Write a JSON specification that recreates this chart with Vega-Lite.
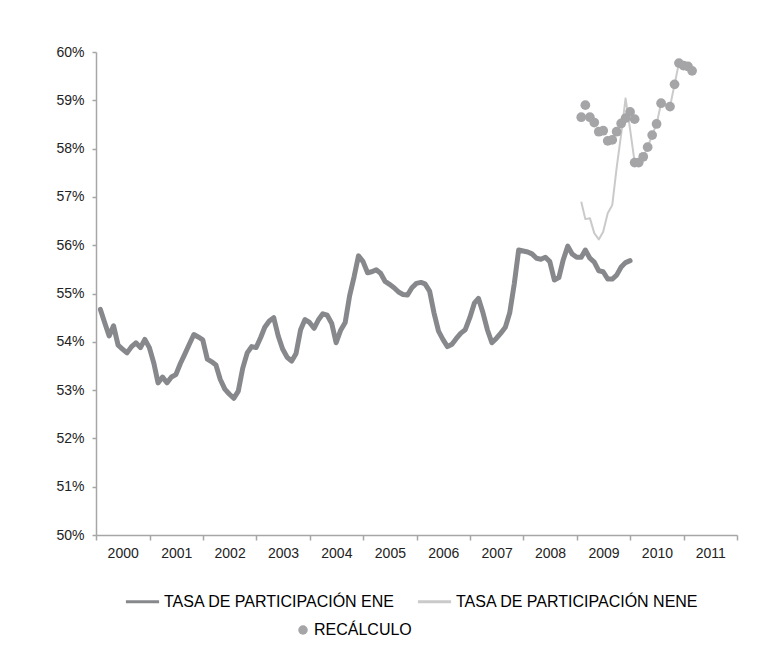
{
  "$schema": "https://vega.github.io/schema/vega-lite/v6.json",
  "width": 641,
  "height": 483,
  "autosize": "none",
  "padding": {"left": 96, "top": 52, "right": 36, "bottom": 110},
  "background": "white",
  "config": {
    "view": {"stroke": null},
    "font": "Liberation Sans"
  },
  "datasets": {
    "ene": [
      {"fecha": "2000-01-31", "tasa": 54.67}, {"fecha": "2000-02-29", "tasa": 54.40}, {"fecha": "2000-03-31", "tasa": 54.12}, {"fecha": "2000-04-30", "tasa": 54.33}, {"fecha": "2000-05-31", "tasa": 53.93}, {"fecha": "2000-06-30", "tasa": 53.85}, {"fecha": "2000-07-31", "tasa": 53.77}, {"fecha": "2000-08-31", "tasa": 53.90}, {"fecha": "2000-09-30", "tasa": 53.98}, {"fecha": "2000-10-31", "tasa": 53.88}, {"fecha": "2000-11-30", "tasa": 54.05}, {"fecha": "2000-12-31", "tasa": 53.88},
      {"fecha": "2001-01-31", "tasa": 53.55}, {"fecha": "2001-02-28", "tasa": 53.15}, {"fecha": "2001-03-31", "tasa": 53.27}, {"fecha": "2001-04-30", "tasa": 53.15}, {"fecha": "2001-05-31", "tasa": 53.27}, {"fecha": "2001-06-30", "tasa": 53.32}, {"fecha": "2001-07-31", "tasa": 53.55}, {"fecha": "2001-08-31", "tasa": 53.75}, {"fecha": "2001-09-30", "tasa": 53.95}, {"fecha": "2001-10-31", "tasa": 54.15}, {"fecha": "2001-11-30", "tasa": 54.10}, {"fecha": "2001-12-31", "tasa": 54.04},
      {"fecha": "2002-01-31", "tasa": 53.64}, {"fecha": "2002-02-28", "tasa": 53.59}, {"fecha": "2002-03-31", "tasa": 53.52}, {"fecha": "2002-04-30", "tasa": 53.22}, {"fecha": "2002-05-31", "tasa": 53.02}, {"fecha": "2002-06-30", "tasa": 52.92}, {"fecha": "2002-07-31", "tasa": 52.83}, {"fecha": "2002-08-31", "tasa": 52.98}, {"fecha": "2002-09-30", "tasa": 53.45}, {"fecha": "2002-10-31", "tasa": 53.77}, {"fecha": "2002-11-30", "tasa": 53.90}, {"fecha": "2002-12-31", "tasa": 53.88},
      {"fecha": "2003-01-31", "tasa": 54.09}, {"fecha": "2003-02-28", "tasa": 54.30}, {"fecha": "2003-03-31", "tasa": 54.43}, {"fecha": "2003-04-30", "tasa": 54.50}, {"fecha": "2003-05-31", "tasa": 54.12}, {"fecha": "2003-06-30", "tasa": 53.85}, {"fecha": "2003-07-31", "tasa": 53.68}, {"fecha": "2003-08-31", "tasa": 53.60}, {"fecha": "2003-09-30", "tasa": 53.76}, {"fecha": "2003-10-31", "tasa": 54.25}, {"fecha": "2003-11-30", "tasa": 54.46}, {"fecha": "2003-12-31", "tasa": 54.40},
      {"fecha": "2004-01-31", "tasa": 54.28}, {"fecha": "2004-02-29", "tasa": 54.45}, {"fecha": "2004-03-31", "tasa": 54.58}, {"fecha": "2004-04-30", "tasa": 54.55}, {"fecha": "2004-05-31", "tasa": 54.38}, {"fecha": "2004-06-30", "tasa": 53.98}, {"fecha": "2004-07-31", "tasa": 54.24}, {"fecha": "2004-08-31", "tasa": 54.40}, {"fecha": "2004-09-30", "tasa": 54.95}, {"fecha": "2004-10-31", "tasa": 55.35}, {"fecha": "2004-11-30", "tasa": 55.78}, {"fecha": "2004-12-31", "tasa": 55.66},
      {"fecha": "2005-01-31", "tasa": 55.43}, {"fecha": "2005-02-28", "tasa": 55.45}, {"fecha": "2005-03-31", "tasa": 55.49}, {"fecha": "2005-04-30", "tasa": 55.42}, {"fecha": "2005-05-31", "tasa": 55.25}, {"fecha": "2005-06-30", "tasa": 55.19}, {"fecha": "2005-07-31", "tasa": 55.12}, {"fecha": "2005-08-31", "tasa": 55.03}, {"fecha": "2005-09-30", "tasa": 54.98}, {"fecha": "2005-10-31", "tasa": 54.97}, {"fecha": "2005-11-30", "tasa": 55.12}, {"fecha": "2005-12-31", "tasa": 55.21},
      {"fecha": "2006-01-31", "tasa": 55.23}, {"fecha": "2006-02-28", "tasa": 55.20}, {"fecha": "2006-03-31", "tasa": 55.05}, {"fecha": "2006-04-30", "tasa": 54.60}, {"fecha": "2006-05-31", "tasa": 54.22}, {"fecha": "2006-06-30", "tasa": 54.05}, {"fecha": "2006-07-31", "tasa": 53.90}, {"fecha": "2006-08-31", "tasa": 53.95}, {"fecha": "2006-09-30", "tasa": 54.07}, {"fecha": "2006-10-31", "tasa": 54.18}, {"fecha": "2006-11-30", "tasa": 54.25}, {"fecha": "2006-12-31", "tasa": 54.50},
      {"fecha": "2007-01-31", "tasa": 54.80}, {"fecha": "2007-02-28", "tasa": 54.90}, {"fecha": "2007-03-31", "tasa": 54.60}, {"fecha": "2007-04-30", "tasa": 54.25}, {"fecha": "2007-05-31", "tasa": 53.98}, {"fecha": "2007-06-30", "tasa": 54.07}, {"fecha": "2007-07-31", "tasa": 54.18}, {"fecha": "2007-08-31", "tasa": 54.30}, {"fecha": "2007-09-30", "tasa": 54.60}, {"fecha": "2007-10-31", "tasa": 55.20}, {"fecha": "2007-11-30", "tasa": 55.90}, {"fecha": "2007-12-31", "tasa": 55.88},
      {"fecha": "2008-01-31", "tasa": 55.86}, {"fecha": "2008-02-29", "tasa": 55.82}, {"fecha": "2008-03-31", "tasa": 55.73}, {"fecha": "2008-04-30", "tasa": 55.71}, {"fecha": "2008-05-31", "tasa": 55.75}, {"fecha": "2008-06-30", "tasa": 55.66}, {"fecha": "2008-07-31", "tasa": 55.28}, {"fecha": "2008-08-31", "tasa": 55.33}, {"fecha": "2008-09-30", "tasa": 55.70}, {"fecha": "2008-10-31", "tasa": 55.98}, {"fecha": "2008-11-30", "tasa": 55.82}, {"fecha": "2008-12-31", "tasa": 55.75},
      {"fecha": "2009-01-31", "tasa": 55.75}, {"fecha": "2009-02-28", "tasa": 55.90}, {"fecha": "2009-03-31", "tasa": 55.73}, {"fecha": "2009-04-30", "tasa": 55.65}, {"fecha": "2009-05-31", "tasa": 55.47}, {"fecha": "2009-06-30", "tasa": 55.45}, {"fecha": "2009-07-31", "tasa": 55.30}, {"fecha": "2009-08-31", "tasa": 55.30}, {"fecha": "2009-09-30", "tasa": 55.38}, {"fecha": "2009-10-31", "tasa": 55.55}, {"fecha": "2009-11-30", "tasa": 55.64}, {"fecha": "2009-12-31", "tasa": 55.68}
    ],
    "nene": [
      {"fecha": "2009-01-31", "tasa": 56.90}, {"fecha": "2009-02-28", "tasa": 56.54}, {"fecha": "2009-03-31", "tasa": 56.56}, {"fecha": "2009-04-30", "tasa": 56.25}, {"fecha": "2009-05-31", "tasa": 56.12}, {"fecha": "2009-06-30", "tasa": 56.28}, {"fecha": "2009-07-31", "tasa": 56.66}, {"fecha": "2009-08-31", "tasa": 56.83}, {"fecha": "2009-09-30", "tasa": 57.60}, {"fecha": "2009-10-31", "tasa": 58.30}, {"fecha": "2009-11-30", "tasa": 59.04}, {"fecha": "2009-12-31", "tasa": 58.40},
      {"fecha": "2010-01-31", "tasa": 57.72}, {"fecha": "2010-02-28", "tasa": 57.71}, {"fecha": "2010-03-31", "tasa": 57.83}, {"fecha": "2010-04-30", "tasa": 58.03}, {"fecha": "2010-05-31", "tasa": 58.28}, {"fecha": "2010-06-30", "tasa": 58.51}, {"fecha": "2010-07-31", "tasa": 58.94}, {"fecha": "2010-09-30", "tasa": 58.87}, {"fecha": "2010-10-31", "tasa": 59.33}, {"fecha": "2010-11-30", "tasa": 59.77}, {"fecha": "2010-12-31", "tasa": 59.72},
      {"fecha": "2011-01-31", "tasa": 59.70}, {"fecha": "2011-02-28", "tasa": 59.61}
    ],
    "recalculo": [
      {"fecha": "2009-01-31", "tasa": 58.65}, {"fecha": "2009-02-28", "tasa": 58.90}, {"fecha": "2009-03-31", "tasa": 58.65}, {"fecha": "2009-04-30", "tasa": 58.54}, {"fecha": "2009-05-31", "tasa": 58.35}, {"fecha": "2009-06-30", "tasa": 58.37}, {"fecha": "2009-07-31", "tasa": 58.16}, {"fecha": "2009-08-31", "tasa": 58.18}, {"fecha": "2009-09-30", "tasa": 58.35}, {"fecha": "2009-10-31", "tasa": 58.52}, {"fecha": "2009-11-30", "tasa": 58.63}, {"fecha": "2009-12-31", "tasa": 58.76},
      {"fecha": "2010-01-31", "tasa": 58.61},
      {"fecha": "2010-01-31", "tasa": 57.71}, {"fecha": "2010-02-28", "tasa": 57.71}, {"fecha": "2010-03-31", "tasa": 57.83}, {"fecha": "2010-04-30", "tasa": 58.03}, {"fecha": "2010-05-31", "tasa": 58.28}, {"fecha": "2010-06-30", "tasa": 58.51}, {"fecha": "2010-07-31", "tasa": 58.94}, {"fecha": "2010-09-30", "tasa": 58.87}, {"fecha": "2010-10-31", "tasa": 59.33}, {"fecha": "2010-11-30", "tasa": 59.77}, {"fecha": "2010-12-31", "tasa": 59.72},
      {"fecha": "2011-01-31", "tasa": 59.70}, {"fecha": "2011-02-28", "tasa": 59.61}
    ]
  },
  "encoding": {
    "x": {
      "field": "fecha",
      "type": "temporal",
      "scale": {
        "type": "utc",
        "domain": [{"year": 2000, "month": 1, "date": 1, "utc": true}, {"year": 2012, "month": 1, "date": 1, "utc": true}],
        "nice": false
      },
      "axis": {
        "title": null,
        "grid": false,
        "values": [
          {"year": 2000, "month": 1, "date": 1, "utc": true}, {"year": 2001, "month": 1, "date": 1, "utc": true}, {"year": 2002, "month": 1, "date": 1, "utc": true}, {"year": 2003, "month": 1, "date": 1, "utc": true}, {"year": 2004, "month": 1, "date": 1, "utc": true}, {"year": 2005, "month": 1, "date": 1, "utc": true}, {"year": 2006, "month": 1, "date": 1, "utc": true}, {"year": 2007, "month": 1, "date": 1, "utc": true}, {"year": 2008, "month": 1, "date": 1, "utc": true}, {"year": 2009, "month": 1, "date": 1, "utc": true}, {"year": 2010, "month": 1, "date": 1, "utc": true}, {"year": 2011, "month": 1, "date": 1, "utc": true}, {"year": 2012, "month": 1, "date": 1, "utc": true}
        ],
        "labelExpr": "utcyear(datum.value) < 2012 ? '' + utcyear(datum.value) : ''",
        "labelOffset": 26.7,
        "labelFont": "Liberation Sans",
        "labelFontSize": 14,
        "labelColor": "#222222",
        "labelPadding": 6,
        "labelFlush": false,
        "labelOverlap": false,
        "domainColor": "#a6a6a6",
        "domainWidth": 1.5,
        "tickColor": "#a6a6a6",
        "tickWidth": 1.5,
        "tickSize": 5
      }
    },
    "y": {
      "field": "tasa",
      "type": "quantitative",
      "scale": {"domain": [50, 60], "nice": false, "zero": false},
      "axis": {
        "title": null,
        "grid": false,
        "values": [50, 51, 52, 53, 54, 55, 56, 57, 58, 59, 60],
        "labelExpr": "datum.value + '%'",
        "labelFont": "Liberation Sans",
        "labelFontSize": 14,
        "labelColor": "#222222",
        "labelPadding": 8,
        "domainColor": "#a6a6a6",
        "domainWidth": 1.5,
        "tickColor": "#a6a6a6",
        "tickWidth": 1.5,
        "tickSize": 4
      }
    }
  },
  "layer": [
    {
      "data": {"name": "ene"},
      "mark": {"type": "line", "strokeWidth": 5, "strokeJoin": "round", "strokeCap": "round"},
      "encoding": {
        "color": {
          "datum": "TASA DE PARTICIPACIÓN ENE",
          "type": "nominal",
          "scale": {"domain": ["TASA DE PARTICIPACIÓN ENE", "TASA DE PARTICIPACIÓN NENE"], "range": ["#87888c", "#cacaca"]},
          "legend": {
            "title": null,
            "orient": "none",
            "legendX": 28,
            "legendY": 531,
            "direction": "horizontal",
            "symbolType": "stroke",
            "symbolSize": 1100,
            "symbolStrokeWidth": 3,
            "labelFont": "Liberation Sans",
            "labelFontSize": 16,
            "labelColor": "#000000",
            "labelOffset": 3,
            "labelLimit": 400,
            "columnPadding": 16,
            "padding": 0
          }
        }
      }
    },
    {
      "data": {"name": "nene"},
      "mark": {"type": "line", "strokeWidth": 2, "strokeJoin": "round"},
      "encoding": {
        "color": {"datum": "TASA DE PARTICIPACIÓN NENE", "type": "nominal"}
      }
    },
    {
      "data": {"name": "recalculo"},
      "mark": {"type": "point", "filled": true, "size": 95, "opacity": 1, "color": "#a5a5a8"},
      "encoding": {
        "shape": {
          "datum": "RECÁLCULO",
          "type": "nominal",
          "scale": {"range": ["circle"]},
          "legend": {
            "title": null,
            "orient": "none",
            "legendX": 199,
            "legendY": 570,
            "symbolSize": 90,
            "symbolFillColor": "#a5a5a8",
            "symbolStrokeColor": "#a5a5a8",
            "symbolStrokeWidth": 0,
            "labelFont": "Liberation Sans",
            "labelFontSize": 16,
            "labelColor": "#000000",
            "labelOffset": 3,
            "padding": 0
          }
        }
      }
    }
  ]
}
